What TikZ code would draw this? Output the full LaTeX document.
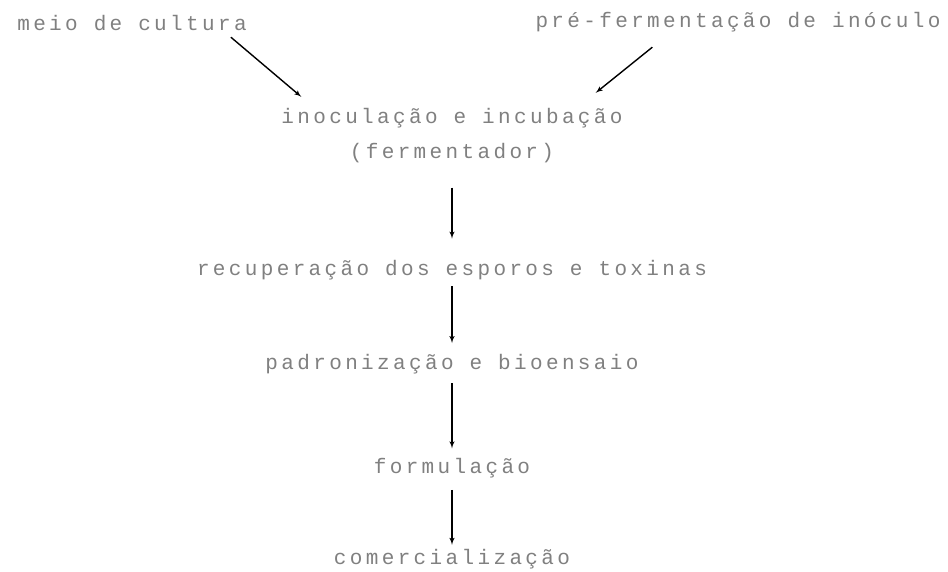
\documentclass[tikz,border=0pt]{standalone}
\usepackage{fontspec}
\newfontfamily\matricial[LetterSpace=16]{Liberation Mono}
\usepackage{tikz}
\usetikzlibrary{arrows,positioning}

\begin{document}
\begin{tikzpicture}[x=1pt,y=1pt,node distance=20pt]
    \tikzstyle{etapa} = [inner sep=0pt, text=black!50,
               font=\matricial\fontsize{21}{24}\selectfont,
               text height=14pt,
               text depth=4pt,
               align=center]
    \tikzstyle{line} = [draw, -latex', line width=1.4pt]

    \useasboundingbox (0,0) rectangle (948,-571);

    % Define inputs
    \node [etapa] (meio) at (132,-25) {meio de cultura};
    \node [etapa] (inoculo) at (738,-22) {pré-fermentação de inóculo};

    % Define process steps
    \node [etapa] (inoc) at (452,-118) {inoculação e incubação};
    \node [etapa, below=17pt of inoc] (ferm) {(fermentador)};
    \node [etapa, below=99pt of ferm] (recup) {recuperação dos esporos e toxinas};
    \node [etapa, below=75pt of recup] (padr) {padronização e bioensaio};
    \node [etapa, below=86pt of padr] (form) {formulação};
    \node [etapa, below=72pt of form] (comer) {comercialização};

    % Draw arrows into the fermenter
    \draw [line] ([xshift=-16pt,yshift=-3pt]meio.south east) --
    ([xshift=20pt,yshift=12pt]inoc.north west);

    \draw [line] ([xshift=117pt,yshift=-16pt]inoculo.south west) --
    ([xshift=-27pt,yshift=16pt]inoc.north east);

    % Draw arrows down the column
    \draw [line, shorten <=25pt, shorten >=23pt] (ferm) -- (recup);
    \draw [line, shorten <=6pt, shorten >=12pt] (recup) -- (padr);
    \draw [line, shorten <=10pt, shorten >=11pt] (padr) -- (form);
    \draw [line, shorten <=12pt, shorten >=5pt] (form) -- (comer);

  \end{tikzpicture}
\end{document}
